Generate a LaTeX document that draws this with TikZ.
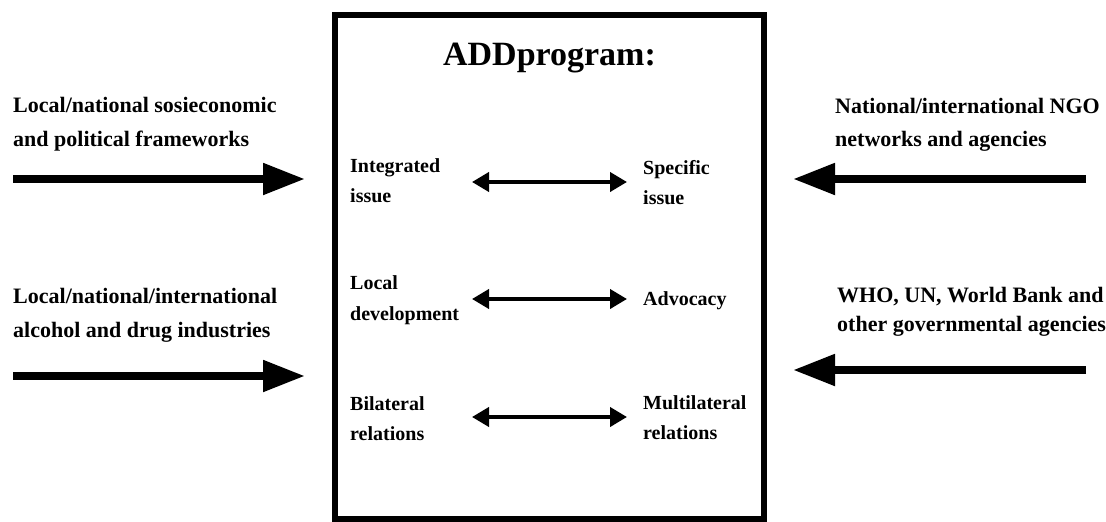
\documentclass[tikz,border=0pt]{standalone}
\usepackage{fontspec}
\setmainfont{Liberation Serif}
\usetikzlibrary{arrows.meta}
\tikzset{
  outer/.style={anchor=base west, inner sep=0pt, align=left, font=\bfseries\fontsize{22}{34}\selectfont},
  inner/.style={anchor=base west, inner sep=0pt, align=left, font=\bfseries\fontsize{20}{30}\selectfont},
  bigarrow/.style={line width=8pt, -{Triangle[length=42pt,width=30pt]}},
  twoway/.style={line width=4pt, {Triangle[length=17pt,width=19pt]}-{Triangle[length=17pt,width=19pt]}},
  progbox/.style={draw, line width=6pt, minimum width=429pt, minimum height=504pt, inner sep=0pt}
}
\begin{document}
\begin{tikzpicture}[x=1pt,y=-1pt]
\useasboundingbox (0,0) rectangle (1106,522);
\node[progbox] (box) at (549.5,267) {};
\node[anchor=base, inner sep=0pt, font=\bfseries\fontsize{34}{40}\selectfont] (title) at (549.5,65) {ADDprogram:};

% outer labels (positions are the baseline of the last line)
\node[outer] (l1) at (13,146) {Local/national sosieconomic\\and political frameworks};
\node[outer] (l2) at (13,337) {Local/national/international\\alcohol and drug industries};
\node[outer, font=\bfseries\fontsize{22}{33}\selectfont] (r1) at (835,146) {National/international NGO\\networks and agencies};
\node[outer, font=\bfseries\fontsize{22}{29}\selectfont] (r2) at (837,331) {WHO, UN, World Bank and\\other governmental agencies};

% outer arrows
\coordinate (l1s) at (13,179);  \coordinate (l1e) at (305,179);
\coordinate (l2s) at (13,376);  \coordinate (l2e) at (305,376);
\coordinate (r1s) at (1086,179); \coordinate (r1e) at (793,179);
\coordinate (r2s) at (1086,370); \coordinate (r2e) at (793,370);
\draw[bigarrow] (l1s) -- (l1e);
\draw[bigarrow] (l2s) -- (l2e);
\draw[bigarrow] (r1s) -- (r1e);
\draw[bigarrow] (r2s) -- (r2e);

% inner labels
\node[inner] (a1) at (350,202) {Integrated\\issue};
\node[inner] (b1) at (643,204) {Specific\\issue};
\node[inner, font=\bfseries\fontsize{20}{31}\selectfont] (a2) at (350,320) {Local\\development};
\node[inner] (b2) at (643,305) {Advocacy};
\node[inner] (a3) at (350,440) {Bilateral\\relations};
\node[inner] (b3) at (643,439) {Multilateral\\relations};

% inner arrows
\coordinate (p1) at (472,182); \coordinate (q1) at (627,182);
\coordinate (p2) at (472,299); \coordinate (q2) at (627,299);
\coordinate (p3) at (472,417); \coordinate (q3) at (627,417);
\draw[twoway] (p1) -- (q1);
\draw[twoway] (p2) -- (q2);
\draw[twoway] (p3) -- (q3);
\end{tikzpicture}
\end{document}
